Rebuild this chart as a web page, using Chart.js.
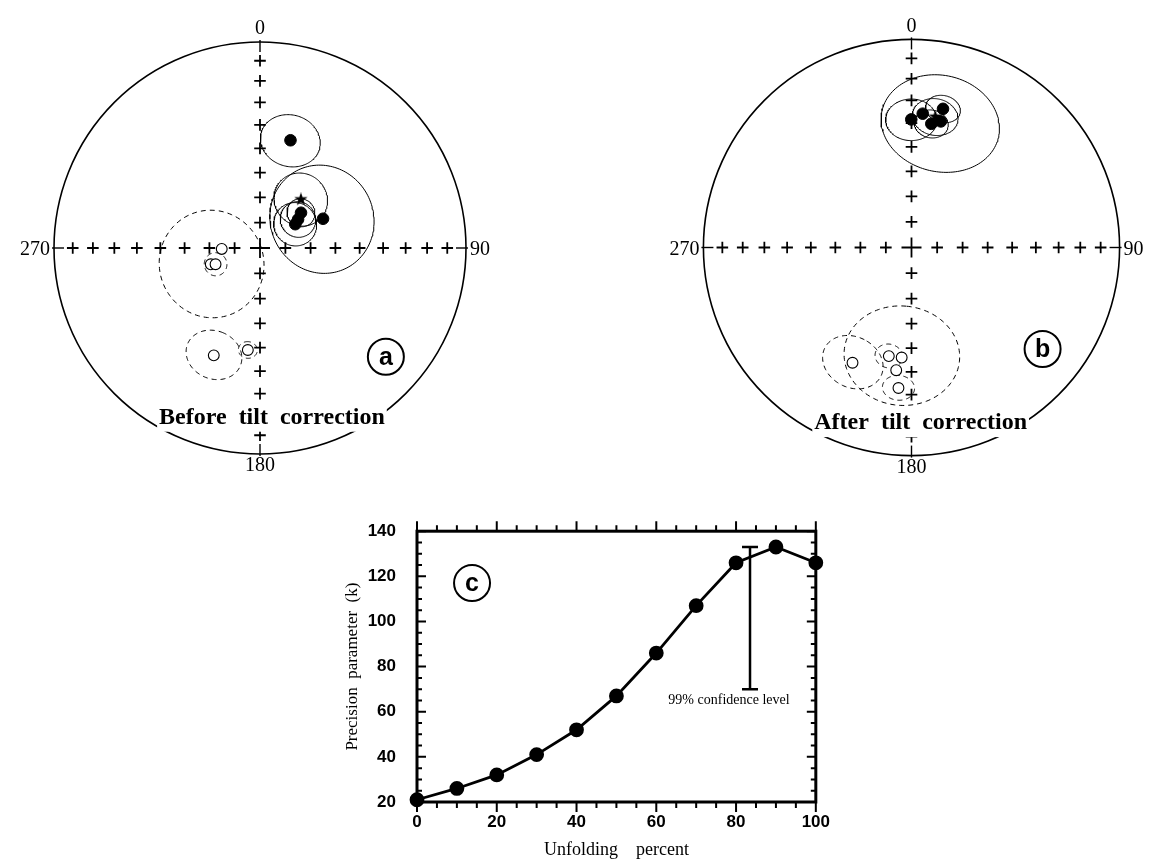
<!DOCTYPE html>
<html>
<head>
<meta charset="utf-8">
<script src="https://cdn.jsdelivr.net/npm/chart.js@4.4.1/dist/chart.umd.min.js"></script>
<style>
  body { margin: 0; background: #fff; width: 1162px; height: 862px; position: relative; overflow: hidden; }
  canvas { position: absolute; }
  #netA { left: 1px; top: -11px; }
  #netB { left: 650px; top: -14px; }
  #unfold { left: 340px; top: 500px; }
</style>
</head>
<body>
<canvas id="netA" width="518" height="518"></canvas>
<canvas id="netB" width="523" height="523"></canvas>
<canvas id="unfold" width="500" height="362"></canvas>
<script>
const beforeDec = [15.8, 65.1, 56.0, 53.1, 49.3, 268.6, 251.7, 249.9, 203.3, 186.8];
const beforeInc = [44.8, 62.4, 73.2, 71.2, 68.6, -74.9, -69.5, -71.3, -42.7, -48.7];
const beforeA95 = [11, 21, 8.5, 7, 5.5, 0, 21, 4.5, 10.3, 3.5];
const beforeMean = [40.1, 64.8, 10.5];

const afterDec = [359.9, 4.8, 12.8, 9.1, 13.1, 207.1, 191.8, 185.1, 187.1, 185.3];
const afterInc = [38.4, 35.7, 32.2, 39.6, 37.8, -37.8, -45.7, -45.9, -40.3, -32.7];
const afterA95 = [9, 0, 6, 6, 21, 11, 5, 21, 0, 5.5];
const afterMean = [10.3, 36.3, 8];

const gridIncs = [80, 70, 60, 50, 40, 30, 20, 10];
const dirLabels = ['0', '90', '180', '270'];

// fold test
const unfolding = [0, 10, 20, 30, 40, 50, 60, 70, 80, 90, 100];
const precisionK = [21, 26, 32, 41, 52, 67, 86, 107, 126, 133, 126];
const xTicks = [0, 20, 40, 60, 80, 100];
const yTicks = [20, 40, 60, 80, 100, 120, 140];
const confX = 83.5;
const confRange = [70, 133];

const rad = Math.PI / 180;

// equal-area projection, unit radius
function project(dec, inc) {
  const r = Math.SQRT2 * Math.sin((90 - Math.abs(inc)) * rad / 2);
  return { x: r * Math.sin(dec * rad), y: r * Math.cos(dec * rad) };
}

function smallCircle(dec, inc, a95) {
  const I = Math.abs(inc) * rad, D = dec * rad, a = a95 * rad;
  const c = [Math.cos(I) * Math.cos(D), Math.cos(I) * Math.sin(D), Math.sin(I)];
  const u = [-Math.sin(I) * Math.cos(D), -Math.sin(I) * Math.sin(D), Math.cos(I)];
  const v = [-Math.sin(D), Math.cos(D), 0];
  const pts = [];
  for (let k = 0; k <= 144; k++) {
    const t = k / 144 * 2 * Math.PI;
    const p = [0, 1, 2].map(i => Math.cos(a) * c[i] + Math.sin(a) * (Math.cos(t) * u[i] + Math.sin(t) * v[i]));
    pts.push(project(Math.atan2(p[1], p[0]) / rad, Math.asin(p[2]) / rad));
  }
  return pts;
}

const starImg = document.createElement('canvas');
starImg.width = starImg.height = 14;
const sctx = starImg.getContext('2d');
sctx.beginPath();
for (let k = 0; k < 10; k++) {
  const r = k % 2 ? 2.8 : 7;
  const ang = -Math.PI / 2 + k * Math.PI / 5;
  sctx.lineTo(7 + r * Math.cos(ang), 7 + r * Math.sin(ang));
}
sctx.closePath();
sctx.fill();

function netDatasets(dec, inc, a95, mean) {
  const sets = [];
  const lower = [], upper = [];
  dec.forEach((d, i) => (inc[i] >= 0 ? lower : upper).push(project(d, inc[i])));
  sets.push({ data: lower, pointRadius: 5.8, pointBackgroundColor: '#000', pointBorderColor: '#000', order: 0 });
  sets.push({ data: upper, pointRadius: 5.4, pointBackgroundColor: '#fff', pointBorderColor: '#000', pointBorderWidth: 1.1, order: 0 });
  sets.push({ data: [project(mean[0], mean[1])], pointStyle: starImg, order: 0 });

  const crosses = [];
  [0, 90, 180, 270].forEach(az => gridIncs.forEach(g => crosses.push(project(az, g))));
  sets.push({ data: crosses, pointStyle: 'cross', pointRadius: 5.8, pointBorderColor: '#000', pointBorderWidth: 1.8, order: 2 });
  sets.push({ data: [{ x: 0, y: 0 }], pointStyle: 'cross', pointRadius: 10, pointBorderColor: '#000', pointBorderWidth: 1.8, order: 2 });

  dec.forEach((d, i) => {
    if (!a95[i]) return;
    sets.push({
      data: smallCircle(d, inc[i], a95[i]), showLine: true, pointRadius: 0,
      borderColor: '#000', borderWidth: 1, borderDash: inc[i] < 0 ? [5, 4] : [], order: 1
    });
  });
  sets.push({ data: smallCircle(mean[0], mean[1], mean[2]), showLine: true, pointRadius: 0, borderColor: '#000', borderWidth: 1, order: 1 });
  return sets;
}

function drawTag(ctx, px, py, letter) {
  ctx.save();
  ctx.lineWidth = 2;
  ctx.strokeStyle = '#000';
  ctx.beginPath();
  ctx.arc(px, py, 18, 0, Math.PI * 2);
  ctx.stroke();
  ctx.fillStyle = '#000';
  ctx.font = 'bold 25px "Liberation Sans"';
  ctx.textAlign = 'center';
  ctx.textBaseline = 'middle';
  ctx.fillText(letter, px, py + 1);
  ctx.restore();
}

const netFrame = {
  id: 'netFrame',
  beforeDatasetsDraw(chart) {
    const { ctx, scales: { x, y } } = chart;
    const cx = x.getPixelForValue(0), cy = y.getPixelForValue(0);
    const R = x.getPixelForValue(1) - cx;
    ctx.save();
    ctx.strokeStyle = '#000';
    ctx.lineWidth = 1.6;
    ctx.beginPath();
    ctx.arc(cx, cy, R, 0, Math.PI * 2);
    ctx.stroke();
    ctx.lineWidth = 1.4;
    [[0, -1], [1, 0], [0, 1], [-1, 0]].forEach(([dx, dy]) => {
      ctx.beginPath();
      ctx.moveTo(cx + dx * (R - 10), cy + dy * (R - 10));
      ctx.lineTo(cx + dx * (R + 2), cy + dy * (R + 2));
      ctx.stroke();
    });
    ctx.restore();
  },
  afterDatasetsDraw(chart, args, opts) {
    const { ctx, scales: { x, y } } = chart;
    const cx = x.getPixelForValue(0), cy = y.getPixelForValue(0);
    const R = x.getPixelForValue(1) - cx;
    ctx.save();
    ctx.fillStyle = '#000';
    ctx.font = '20px "Liberation Serif"';
    ctx.textBaseline = 'middle';
    ctx.textAlign = 'center';
    ctx.fillText(dirLabels[0], cx, cy - R - 13);
    ctx.fillText(dirLabels[2], cx, cy + R + 12);
    ctx.textAlign = 'right';
    ctx.fillText(dirLabels[3], cx - R - 4, cy + 2);
    ctx.textAlign = 'left';
    ctx.fillText(dirLabels[1], cx + R + 4, cy + 2);

    ctx.font = 'bold 24px "Liberation Serif"';
    const w = ctx.measureText(opts.caption).width;
    const tx = x.getPixelForValue(opts.captionAt[0]), ty = y.getPixelForValue(opts.captionAt[1]);
    ctx.fillStyle = '#fff';
    ctx.fillRect(tx - w / 2 - 2, ty - 14, w + 4, 29);
    ctx.fillStyle = '#000';
    ctx.textAlign = 'center';
    ctx.fillText(opts.caption, tx, ty + 1);
    ctx.restore();

    drawTag(ctx, x.getPixelForValue(opts.tagAt[0]), y.getPixelForValue(opts.tagAt[1]), opts.tag);
  }
};

function netOptions(caption, captionAt, tag, tagAt) {
  return {
    responsive: false, animation: false, devicePixelRatio: 1, events: [],
    layout: { padding: 0 },
    scales: {
      x: { type: 'linear', min: -1.2, max: 1.2, display: false },
      y: { type: 'linear', min: -1.2, max: 1.2, display: false }
    },
    plugins: {
      legend: { display: false }, tooltip: { enabled: false },
      netFrame: { caption, captionAt, tag, tagAt }
    }
  };
}

new Chart(document.getElementById('netA'), {
  type: 'scatter',
  data: { datasets: netDatasets(beforeDec, beforeInc, beforeA95, beforeMean) },
  options: netOptions('Before  tilt  correction', [0.058, -0.819], 'a', [0.611, -0.528]),
  plugins: [netFrame]
});

new Chart(document.getElementById('netB'), {
  type: 'scatter',
  data: { datasets: netDatasets(afterDec, afterInc, afterA95, afterMean) },
  options: netOptions('After  tilt  correction', [0.044, -0.839], 'b', [0.630, -0.488]),
  plugins: [netFrame]
});

const plotFrame = {
  id: 'plotFrame',
  beforeDatasetsDraw(chart) {
    const { ctx, chartArea: a, scales: { x, y } } = chart;
    ctx.save();
    ctx.strokeStyle = '#000';
    ctx.lineWidth = 3;
    ctx.strokeRect(a.left, a.top, a.right - a.left, a.bottom - a.top);
    ctx.lineWidth = 2;
    ctx.beginPath();
    for (let v = 0; v <= 100; v += 5) {
      const px = x.getPixelForValue(v);
      const len = v % 20 === 0 ? 10 : 6;
      ctx.moveTo(px, a.bottom); ctx.lineTo(px, a.bottom + len);
      ctx.moveTo(px, a.top); ctx.lineTo(px, a.top - len);
    }
    for (let v = 20; v <= 140; v += 5) {
      const py = y.getPixelForValue(v);
      const len = v % 20 === 0 ? 9 : 5;
      ctx.moveTo(a.left, py); ctx.lineTo(a.left + len, py);
      ctx.moveTo(a.right, py); ctx.lineTo(a.right - len, py);
    }
    ctx.stroke();
    ctx.restore();
  },
  afterDatasetsDraw(chart, args, opts) {
    const { ctx, scales: { x, y } } = chart;
    const bx = x.getPixelForValue(confX);
    const lo = y.getPixelForValue(confRange[0]), hi = y.getPixelForValue(confRange[1]);
    ctx.save();
    ctx.strokeStyle = '#000';
    ctx.lineWidth = 2.5;
    ctx.beginPath();
    ctx.moveTo(bx, lo); ctx.lineTo(bx, hi);
    ctx.moveTo(bx - 8, lo); ctx.lineTo(bx + 8, lo);
    ctx.moveTo(bx - 8, hi); ctx.lineTo(bx + 8, hi);
    ctx.stroke();
    ctx.fillStyle = '#000';
    ctx.font = '14px "Liberation Serif"';
    ctx.textAlign = 'center';
    ctx.textBaseline = 'middle';
    ctx.fillText('99% confidence level', bx - 21, lo + 11);
    ctx.restore();
    drawTag(ctx, x.getPixelForValue(opts.tagAt[0]), y.getPixelForValue(opts.tagAt[1]), 'c');
  }
};

const tickFont = { family: 'Liberation Sans', size: 17, weight: 'bold' };

new Chart(document.getElementById('unfold'), {
  type: 'line',
  data: {
    datasets: [{
      data: unfolding.map((u, i) => ({ x: u, y: precisionK[i] })),
      borderColor: '#000', borderWidth: 2.8, tension: 0,
      pointRadius: 6, pointBackgroundColor: '#000', pointBorderColor: '#000',
      clip: false
    }]
  },
  options: {
    responsive: false, animation: false, devicePixelRatio: 1, events: [],
    layout: { padding: { top: 14, right: 17, left: 0, bottom: 0 } },
    scales: {
      x: {
        type: 'linear', min: 0, max: 100,
        afterBuildTicks: s => { s.ticks = xTicks.map(v => ({ value: v })); },
        afterFit: s => { s.height = 60; },
        grid: { display: false, drawTicks: false }, border: { display: false },
        ticks: { font: tickFont, color: '#000', padding: 10, maxRotation: 0 },
        title: { display: true, text: 'Unfolding    percent', color: '#000', font: { family: 'Liberation Serif', size: 18 }, padding: { top: 0, bottom: 1 } }
      },
      y: {
        type: 'linear', min: 20, max: 140,
        afterBuildTicks: s => { s.ticks = yTicks.map(v => ({ value: v })); },
        afterFit: s => { s.width = 77; },
        grid: { display: false, drawTicks: false }, border: { display: false },
        ticks: { font: tickFont, color: '#000', padding: 21 },
        title: { display: true, text: 'Precision  parameter  (k)', color: '#000', font: { family: 'Liberation Serif', size: 17 }, padding: { top: 2, bottom: 0 } }
      }
    },
    plugins: {
      legend: { display: false }, tooltip: { enabled: false },
      plotFrame: { tagAt: [13.8, 117] }
    }
  },
  plugins: [plotFrame]
});
</script>
</body>
</html>
